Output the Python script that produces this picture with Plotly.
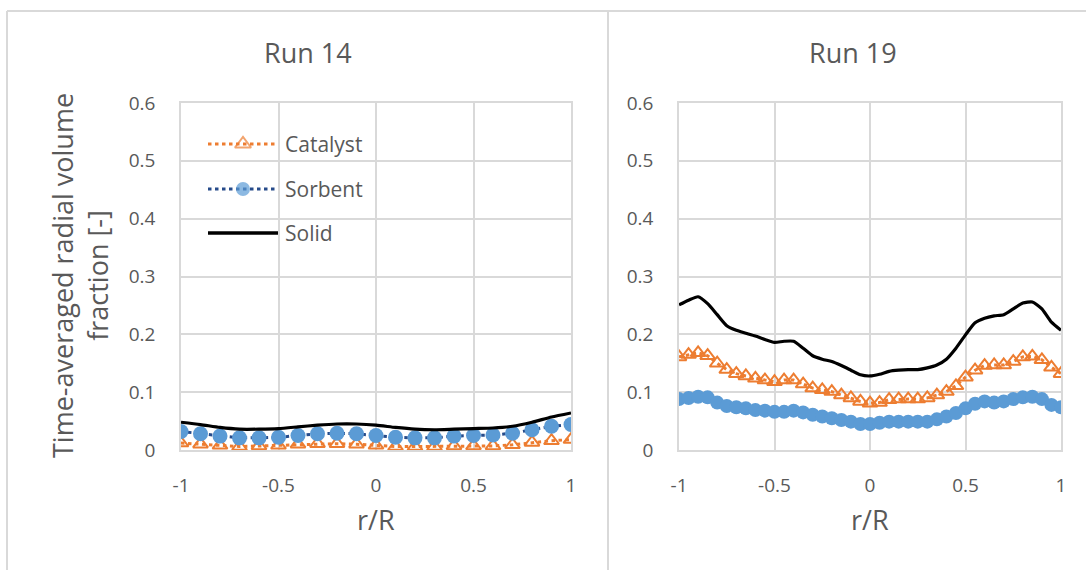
import plotly.graph_objects as go

# ---- data -------------------------------------------------------------
# Run 14: radial positions (r/R) at 0.1 spacing
r14 = [-1.0, -0.9, -0.8, -0.7, -0.6, -0.5, -0.4, -0.3, -0.2, -0.1, 0.0,
       0.1, 0.2, 0.3, 0.4, 0.5, 0.6, 0.7, 0.8, 0.9, 1.0]
catalyst14 = [0.012, 0.010, 0.008, 0.006, 0.007, 0.008, 0.010, 0.011, 0.011, 0.010, 0.008,
              0.006, 0.006, 0.006, 0.007, 0.007, 0.007, 0.009, 0.013, 0.016, 0.018]
sorbent14 = [0.032, 0.028, 0.024, 0.021, 0.021, 0.022, 0.025, 0.028, 0.029, 0.028, 0.025,
             0.022, 0.021, 0.021, 0.024, 0.025, 0.026, 0.029, 0.035, 0.041, 0.044]
solid14 = [0.048, 0.044, 0.039, 0.036, 0.036, 0.037, 0.040, 0.043, 0.045, 0.045, 0.043,
           0.039, 0.036, 0.035, 0.036, 0.037, 0.038, 0.041, 0.048, 0.057, 0.064]

# Run 19: radial positions (r/R) at 0.05 spacing
r19 = [-1.0, -0.95, -0.9, -0.85, -0.8, -0.75, -0.7, -0.65, -0.6, -0.55, -0.5,
       -0.45, -0.4, -0.35, -0.3, -0.25, -0.2, -0.15, -0.1, -0.05, 0.0,
       0.05, 0.1, 0.15, 0.2, 0.25, 0.3, 0.35, 0.4, 0.45, 0.5,
       0.55, 0.6, 0.65, 0.7, 0.75, 0.8, 0.85, 0.9, 0.95, 1.0]
catalyst19 = [0.161, 0.165, 0.168, 0.163, 0.150, 0.139, 0.132, 0.128, 0.124, 0.121, 0.118,
              0.121, 0.121, 0.114, 0.107, 0.104, 0.101, 0.095, 0.090, 0.084, 0.081,
              0.082, 0.087, 0.088, 0.088, 0.088, 0.090, 0.095, 0.101, 0.111, 0.126,
              0.138, 0.146, 0.147, 0.147, 0.153, 0.161, 0.162, 0.156, 0.143, 0.132]
sorbent19 = [0.088, 0.090, 0.092, 0.091, 0.082, 0.076, 0.074, 0.072, 0.069, 0.068, 0.066,
             0.066, 0.068, 0.065, 0.061, 0.058, 0.055, 0.052, 0.049, 0.045, 0.045,
             0.047, 0.049, 0.049, 0.049, 0.049, 0.049, 0.053, 0.058, 0.064, 0.072,
             0.080, 0.084, 0.082, 0.084, 0.088, 0.091, 0.092, 0.088, 0.078, 0.074]
solid19 = [0.251, 0.259, 0.265, 0.253, 0.234, 0.215, 0.207, 0.202, 0.197, 0.191, 0.186,
           0.188, 0.188, 0.176, 0.163, 0.157, 0.153, 0.146, 0.138, 0.130, 0.128,
           0.131, 0.136, 0.138, 0.139, 0.139, 0.142, 0.147, 0.157, 0.176, 0.199,
           0.220, 0.228, 0.232, 0.234, 0.244, 0.254, 0.256, 0.244, 0.221, 0.207]

series_names = ["Catalyst", "Sorbent", "Solid"]
panel_titles = ["Run 14", "Run 19"]
x_tickvals = [-1, -0.5, 0, 0.5, 1]
x_ticktext = ["-1", "-0.5", "0", "0.5", "1"]
y_tickvals = [0, 0.1, 0.2, 0.3, 0.4, 0.5, 0.6]
y_ticktext = ["0", "0.1", "0.2", "0.3", "0.4", "0.5", "0.6"]
x_title = "r/R"
y_title = "Time-averaged radial volume<br>fraction [-]"

# ---- styling ----------------------------------------------------------
W, H = 1086, 570
FONT = "Open Sans"
TXT = "#595959"
GRID = "#d9d9d9"
ORANGE = "#ed7d31"
BLUE = "#5b9bd5"
NAVY = "#264b8a"
BLACK = "#000000"
DOT = "3.5px,3.5px"

def px_x(p):
    return p / W

def px_y(p):
    return 1 - p / H

fig = go.Figure()

def add_series(r, cat, sor, sol, xa, ya, csize, tsize):
    fig.add_trace(go.Scatter(
        x=r, y=cat, mode="lines+markers", name=series_names[0],
        line=dict(color=ORANGE, width=3, dash=DOT),
        marker=dict(symbol="triangle-up-open", size=tsize, color=ORANGE,
                    line=dict(color=ORANGE, width=2)),
        xaxis=xa, yaxis=ya, showlegend=False))
    fig.add_trace(go.Scatter(
        x=r, y=sor, mode="lines+markers", name=series_names[1],
        line=dict(color=NAVY, width=3, dash=DOT),
        marker=dict(symbol="circle", size=csize, color=BLUE, line=dict(width=0)),
        xaxis=xa, yaxis=ya, showlegend=False))
    fig.add_trace(go.Scatter(
        x=r, y=sol, mode="lines", name=series_names[2],
        line=dict(color=BLACK, width=3.2, shape="spline", smoothing=0.6),
        xaxis=xa, yaxis=ya, showlegend=False))

add_series(r14, catalyst14, sorbent14, solid14, "x", "y", 15, 13)
add_series(r19, catalyst19, sorbent19, solid19, "x2", "y2", 14, 13)

# ---- hand-placed legend in the Run 14 panel (pixel coordinates) -------
leg_rows = [144, 189, 233]
lx0, lx1 = 208, 278
lmid = (lx0 + lx1) / 2
legend_styles = [
    dict(line=dict(color=ORANGE, width=3, dash=DOT),
         marker=dict(symbol="triangle-up-open", size=[0, 14, 0], color=ORANGE,
                     line=dict(color=ORANGE, width=2))),
    dict(line=dict(color=NAVY, width=3, dash=DOT),
         marker=dict(symbol="circle", size=[0, 14, 0], color=BLUE, line=dict(width=0))),
    dict(line=dict(color=BLACK, width=3.5), marker=dict(size=[0, 0, 0])),
]
for row, name, sty in zip(leg_rows, series_names, legend_styles):
    fig.add_trace(go.Scatter(
        x=[lx0, lmid, lx1], y=[row, row, row], mode="lines+markers",
        xaxis="x3", yaxis="y3", showlegend=False, hoverinfo="skip", **sty))
    fig.add_annotation(x=lx1 + 5, y=row, xref="x3", yref="y3", text=name,
                       showarrow=False, xanchor="left", yanchor="middle",
                       font=dict(family=FONT, size=21, color=TXT))

# ---- axes -------------------------------------------------------------
tick_font = dict(family=FONT, size=19, color=TXT)
common_x = dict(range=[-1, 1], tickmode="array", tickvals=x_tickvals, ticktext=x_ticktext,
                showgrid=True, gridcolor=GRID, gridwidth=1.5, zeroline=False,
                showline=True, linecolor=GRID, linewidth=1.5, mirror=True,
                ticks="outside", ticklen=17, tickcolor="rgba(0,0,0,0)",
                tickfont=tick_font, fixedrange=True, automargin=False)
common_y = dict(range=[0, 0.6], tickmode="array", tickvals=y_tickvals, ticktext=y_ticktext,
                showgrid=True, gridcolor=GRID, gridwidth=1.5, zeroline=False,
                showline=True, linecolor=GRID, linewidth=1.5, mirror=True,
                ticks="outside", ticklen=20, tickcolor="rgba(0,0,0,0)",
                tickfont=tick_font, fixedrange=True, automargin=False)

ydom = [px_y(450), px_y(103)]
fig.update_layout(
    width=W, height=H,
    margin=dict(l=0, r=0, t=0, b=0),
    paper_bgcolor="white", plot_bgcolor="rgba(0,0,0,0)",
    showlegend=False,
    xaxis=dict(domain=[px_x(181), px_x(571)], anchor="y", **common_x),
    yaxis=dict(domain=ydom, anchor="x", **common_y),
    xaxis2=dict(domain=[px_x(679), px_x(1061)], anchor="y2", **common_x),
    yaxis2=dict(domain=ydom, anchor="x2", **common_y),
    xaxis3=dict(domain=[0, 1], range=[0, W], visible=False, fixedrange=True, anchor="y3"),
    yaxis3=dict(domain=[0, 1], range=[H, 0], visible=False, fixedrange=True, anchor="x3"),
)

# ---- chart-area frames ------------------------------------------------
frame = dict(color=GRID, width=2)
fig.add_shape(type="line", xref="x3", yref="y3", x0=7, x1=W, y0=11, y1=11, line=frame)
fig.add_shape(type="line", xref="x3", yref="y3", x0=7, x1=7, y0=11, y1=H, line=frame)
fig.add_shape(type="line", xref="x3", yref="y3", x0=608, x1=608, y0=11, y1=H, line=frame)

# ---- titles -----------------------------------------------------------
title_font = dict(family=FONT, size=27, color=TXT)
axis_font = dict(family=FONT, size=27, color=TXT)
for cx, txt in zip([307.5, 853], panel_titles):
    fig.add_annotation(x=cx, y=52, xref="x3", yref="y3", text=txt, showarrow=False,
                       xanchor="center", yanchor="middle", font=title_font)
for cx in [376, 870]:
    fig.add_annotation(x=cx, y=519, xref="x3", yref="y3", text=x_title, showarrow=False,
                       xanchor="center", yanchor="middle", font=axis_font)
fig.add_annotation(x=80, y=276, xref="x3", yref="y3", text=y_title, showarrow=False,
                   textangle=-90, xanchor="center", yanchor="middle", font=axis_font)

fig.write_html("out.html")
